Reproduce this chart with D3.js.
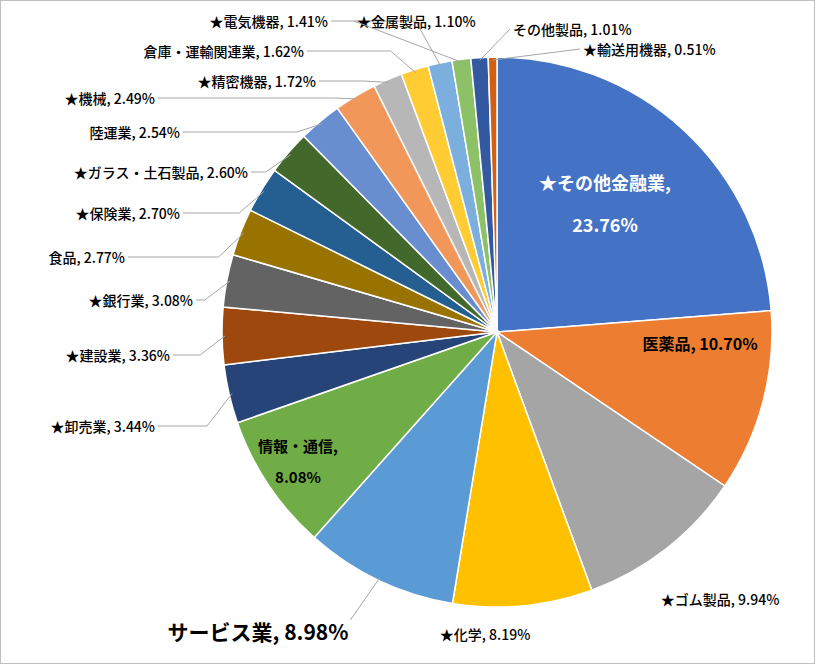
<!DOCTYPE html>
<html><head><meta charset="utf-8">
<script src="https://cdn.jsdelivr.net/npm/d3@7"></script>
<style>body{margin:0;background:#fff}text{font-family:"Noto Sans CJK JP","Noto Sans",sans-serif}</style>
</head><body><svg id="c" width="815" height="664"></svg>
<script>
const categories=["★その他金融業","医薬品","★ゴム製品","★化学","サービス業","情報・通信","★卸売業","★建設業","★銀行業","食品","★保険業","★ガラス・土石製品","陸運業","★機械","★精密機器","倉庫・運輸関連業","★電気機器","★金属製品","その他製品","★輸送用機器"];
const values=[23.76,10.70,9.94,8.19,8.98,8.08,3.44,3.36,3.08,2.77,2.70,2.60,2.54,2.49,1.72,1.62,1.41,1.10,1.01,0.51];
const colors=["#4472C4","#ED7D31","#A5A5A5","#FFC000","#5B9BD5","#70AD47","#264478","#9E480E","#636363","#997300","#255E91","#43682B","#698ED0","#F1975A","#B7B7B7","#FFCD33","#7CAFDD","#8CC168","#335AA1","#D26012"];
// label layout: [x, y, anchor, inside?]
const labelPos=[[605,190,"middle",1],[700,350,"middle",1],[720,605,"middle",0],[485,640,"middle",0],[258,640,"middle",0],[298,452,"middle",1],
[155,432,"end",0],[170,361,"end",0],[193,306,"end",0],[125,263,"end",0],[180,219,"end",0],[248,178,"end",0],[180,138,"end",0],[155,104,"end",0],
[316,87,"end",0],[304,57,"end",0],[328,27,"end",0],[357,27,"start",0],[513,35,"start",0],[583,55,"start",0]];
const svg=d3.select("#c");
svg.append("rect").attr("x",0.5).attr("y",0.5).attr("width",814).attr("height",663).attr("fill","#fff").attr("stroke","#bfbfbf");
const cx=497,cy=332,r=275;
const g=svg.append("g").attr("transform",`translate(${cx},${cy})`);
const pie=d3.pie().sort(null).value(d=>d)(values);
const arc=d3.arc().innerRadius(0).outerRadius(r);
g.selectAll("path").data(pie).join("path").attr("d",arc).attr("fill",(d,i)=>colors[i]).attr("stroke","#fff").attr("stroke-width",1.5);
const fmt=v=>v.toFixed(2)+"%";
pie.forEach((d,i)=>{
  const [x,y,anc,ins]=labelPos[i];
  if(ins){
    const big=i===0, col=big?"#fff":"#000";
    const fs=big?18:16;
    if(i===1){svg.append("text").attr("x",x).attr("y",y).attr("text-anchor","middle").attr("font-size",fs).attr("font-weight","bold").attr("fill",col).text(categories[i]+", "+fmt(values[i]));}
    else{
      svg.append("text").attr("x",x).attr("y",y-(big?0:0)).attr("text-anchor","middle").attr("font-size",big?18:15).attr("font-weight","bold").attr("fill",col).text(categories[i]+",");
      svg.append("text").attr("x",x).attr("y",y+(big?42:31)).attr("text-anchor","middle").attr("font-size",big?18:15).attr("font-weight","bold").attr("fill",col).text(fmt(values[i]));
    }
    return;
  }
  const fs=i===4?21:14;
  const t=svg.append("text").attr("x",x).attr("y",y).attr("text-anchor",anc).attr("font-size",fs).attr("font-weight",i===4?"bold":"500").attr("fill","#000").text(categories[i]+", "+fmt(values[i]));
  const bb=t.node().getBBox();
  const a=(d.startAngle+d.endAngle)/2;
  const ex=cx+Math.sin(a)*(r-3), ey=cy-Math.cos(a)*(r-3);
  let lx,ly;
  if(i<=3){ if(i===2||i===3) return; }
  if(i===4){lx=bb.x+bb.width+2;ly=bb.y+4;}
  else if(anc==="end"){lx=bb.x+bb.width+3;ly=bb.y+bb.height/2;}
  else {lx=bb.x-3;ly=bb.y+bb.height/2;}
  const elx=anc==="start"?Math.min(ex,lx):lx+(ex-lx)*0.15;
  svg.append("polyline").attr("points",`${lx},${ly} ${anc==="end"?Math.max(lx,ex-25):lx},${anc==="end"?ly:ly} ${ex},${ey}`).attr("fill","none").attr("stroke","#a6a6a6").attr("stroke-width",1);
});
</script></body></html>
